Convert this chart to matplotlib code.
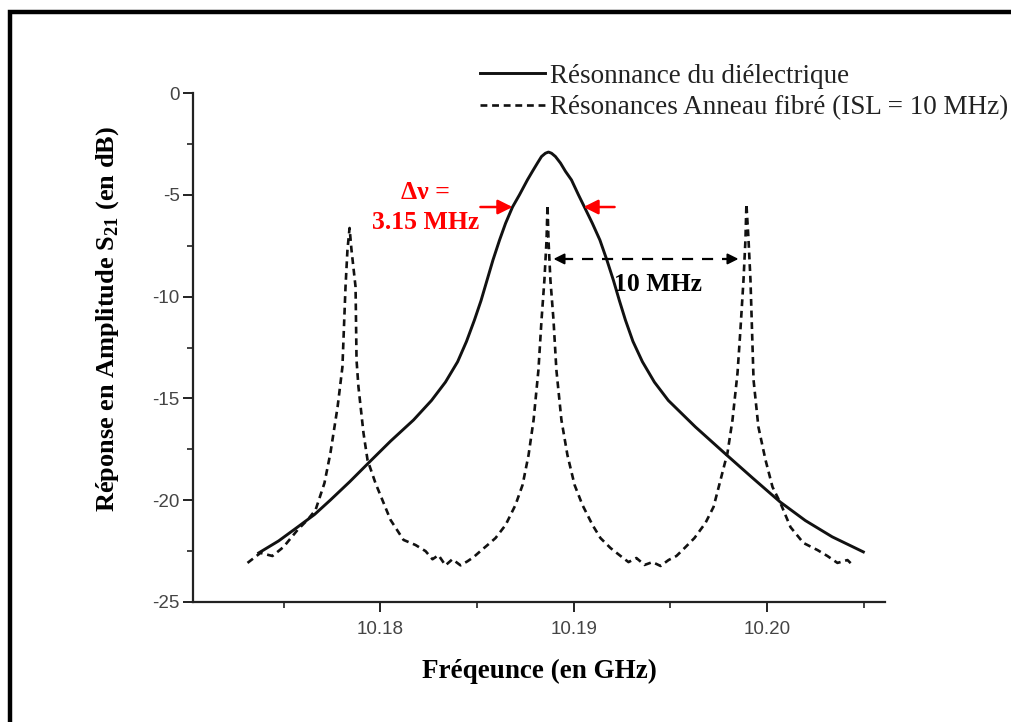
import matplotlib
matplotlib.use("Agg")
import matplotlib.pyplot as plt
from matplotlib.patches import Rectangle

# Résonance du diélectrique (trait plein)
freq_diel = [10.17370, 10.17473, 10.17571, 10.17659, 10.17741, 10.17840, 10.17938,
             10.18052, 10.18171, 10.18264, 10.18336, 10.18399, 10.18445, 10.18486,
             10.18520, 10.18551, 10.18582, 10.18616, 10.18647, 10.18683, 10.18719,
             10.18760, 10.18786, 10.18812, 10.18833, 10.18853, 10.18869, 10.18885,
             10.18905, 10.18931, 10.18957, 10.18988, 10.19024, 10.19055, 10.19096,
             10.19135, 10.19171, 10.19205, 10.19236, 10.19267, 10.19306, 10.19355,
             10.19417, 10.19489, 10.19629, 10.19779, 10.19924, 10.20068, 10.20198,
             10.20337, 10.20498]
s21_diel = [-22.59, -22.00, -21.32, -20.70, -19.99, -19.10, -18.17,
            -17.10, -16.06, -15.10, -14.20, -13.20, -12.20, -11.15,
            -10.20, -9.20, -8.20, -7.22, -6.40, -5.60, -5.00,
            -4.27, -3.85, -3.44, -3.12, -2.96, -2.90, -2.96,
            -3.12, -3.44, -3.85, -4.27, -5.00, -5.60, -6.40,
            -7.22, -8.20, -9.20, -10.20, -11.15, -12.20, -13.20,
            -14.20, -15.10, -16.40, -17.68, -18.90, -20.09, -21.00,
            -21.80, -22.54]

# Résonances de l'anneau fibré (pointillés)
freq_ring = [10.17312, 10.17379, 10.17441, 10.17498, 10.17571, 10.17622, 10.17664,
             10.17710, 10.17741, 10.17778, 10.17803, 10.17819, 10.17829, 10.17840,
             10.17850, 10.17871, 10.17876, 10.17886, 10.17912, 10.17933, 10.17974,
             10.18052, 10.18119, 10.18181, 10.18233, 10.18269, 10.18300, 10.18336,
             10.18372, 10.18414, 10.18450, 10.18481, 10.18517, 10.18554, 10.18595,
             10.18647, 10.18698, 10.18735, 10.18766, 10.18792, 10.18817, 10.18833,
             10.18848, 10.18859, 10.18864, 10.18869, 10.18879, 10.18895, 10.18910,
             10.18936, 10.18967, 10.19004, 10.19045, 10.19097, 10.19138, 10.19190,
             10.19242, 10.19283, 10.19324, 10.19366, 10.19407, 10.19449, 10.19490,
             10.19531, 10.19573, 10.19624, 10.19681, 10.19723, 10.19759, 10.19795,
             10.19821, 10.19847, 10.19862, 10.19878, 10.19888, 10.19893, 10.19904,
             10.19914, 10.19930, 10.19955, 10.19992, 10.20028, 10.20069, 10.20121,
             10.20188, 10.20261, 10.20312, 10.20364, 10.20416, 10.20442]
s21_ring = [-23.08, -22.59, -22.74, -22.30, -21.46, -20.97, -20.48,
            -19.16, -17.68, -15.42, -13.46, -9.53, -7.71, -6.63,
            -7.71, -9.53, -13.11, -14.44, -16.70, -18.03, -19.16,
            -20.97, -21.95, -22.20, -22.50, -22.90, -22.70, -23.20,
            -22.90, -23.20, -23.00, -22.80, -22.50, -22.20, -21.86,
            -21.22, -20.24, -19.25, -17.78, -16.06, -13.61, -11.15,
            -9.18, -7.22, -5.50, -7.22, -9.18, -11.15, -13.61,
            -16.06, -17.78, -19.25, -20.24, -21.22, -21.86, -22.35,
            -22.74, -23.04, -22.84, -23.18, -23.04, -23.23, -22.94,
            -22.74, -22.35, -21.86, -21.12, -20.33, -19.01, -17.68,
            -16.06, -13.75, -11.64, -9.18, -7.22, -5.45, -7.22,
            -9.18, -14.10, -16.40, -18.03, -19.35, -20.14, -21.32,
            -22.10, -22.45, -22.74, -23.08, -22.94, -23.18]

x_ticks = [10.18, 10.19, 10.20]
x_tick_labels = ["10.18", "10.19", "10.20"]
y_ticks = [0, -5, -10, -15, -20, -25]
y_tick_labels = ["0", "-5", "-10", "-15", "-20", "-25"]

plt.rcParams["mathtext.fontset"] = "custom"
plt.rcParams["mathtext.rm"] = "Liberation Serif"
plt.rcParams["mathtext.bf"] = "Liberation Serif:bold"

fig = plt.figure(figsize=(10.12, 7.22), dpi=100)
ax = fig.add_axes([193 / 1012, 1 - 602 / 722, 692 / 1012, 509 / 722])

l1, = ax.plot(freq_diel, s21_diel, color="#111111", lw=2.1,
              label="Résonnance du diélectrique")
l2, = ax.plot(freq_ring, s21_ring, color="#111111", lw=1.9, dashes=(2.6, 1.8),
              label="Résonances Anneau fibré (ISL = 10 MHz)")

ax.set_xlim(10.1703, 10.2061)
ax.set_ylim(-25, 0)
ax.spines["top"].set_visible(False)
ax.spines["right"].set_visible(False)
for s in ["left", "bottom"]:
    ax.spines[s].set_linewidth(1.6)
    ax.spines[s].set_color("#222222")

ax.set_xticks(x_ticks)
ax.set_xticklabels(x_tick_labels)
ax.set_xticks([10.175, 10.185, 10.195, 10.205], minor=True)
ax.set_yticks(y_ticks)
ax.set_yticklabels(y_tick_labels)
ax.tick_params(which="major", length=7.5, width=1.4, color="#222222",
               labelsize=13.5, labelcolor="#444444")
ax.tick_params(axis="x", which="major", pad=6)
ax.tick_params(axis="y", which="major", pad=2)
ax.set_yticks([-2.5, -7.5, -12.5, -17.5, -22.5], minor=True)
ax.tick_params(which="minor", length=4.5, width=1.2, color="#222222")
for lab in ax.get_xticklabels() + ax.get_yticklabels():
    lab.set_family("Liberation Sans")

ax.set_xlabel("Fréqeunce (en GHz)", family="Liberation Serif", weight="bold",
              fontsize=19.5)
ax.xaxis.set_label_coords(0.5, -0.112)
ax.set_ylabel("Réponse en Amplitude S$_{\\mathbf{21}}$ (en dB)",
              family="Liberation Serif", weight="bold", fontsize=19)
ax.yaxis.set_label_coords(-0.104, 0.556)

# annotations
ax.text(10.18233, -4.9, "Δν =", color="red", family="Liberation Serif",
        weight="bold", fontsize=18.5, ha="center", va="center")
ax.text(10.18233, -6.35, "3.15 MHz", color="red", family="Liberation Serif",
        weight="bold", fontsize=18.5, ha="center", va="center")
ax.annotate("", xy=(10.18683, -5.6), xytext=(10.18517, -5.6),
            arrowprops=dict(arrowstyle="-|>", color="red", lw=1.8, mutation_scale=22,
                            shrinkA=0, shrinkB=0))
ax.annotate("", xy=(10.19050, -5.6), xytext=(10.19211, -5.6),
            arrowprops=dict(arrowstyle="-|>", color="red", lw=1.8, mutation_scale=22,
                            shrinkA=0, shrinkB=0))

ax.plot([10.18940, 10.19810], [-8.15, -8.15], color="black", lw=1.6, dashes=(5, 4))
ax.annotate("", xy=(10.18895, -8.15), xytext=(10.18975, -8.15),
            arrowprops=dict(arrowstyle="-|>", color="black", lw=1.4, mutation_scale=16,
                            shrinkA=0, shrinkB=0))
ax.annotate("", xy=(10.19852, -8.15), xytext=(10.19775, -8.15),
            arrowprops=dict(arrowstyle="-|>", color="black", lw=1.4, mutation_scale=16,
                            shrinkA=0, shrinkB=0))
ax.text(10.19438, -9.4, "10 MHz", color="black", family="Liberation Serif",
        weight="bold", fontsize=18.5, ha="center", va="center")

leg = fig.legend(handles=[l1, l2], loc="upper left", bbox_to_anchor=(0.474, 0.912),
                 frameon=False, borderpad=0, borderaxespad=0, handlelength=2.4,
                 handletextpad=0.18, labelspacing=0.25,
                 prop={"family": "Liberation Serif", "size": 19.5})
for t in leg.get_texts():
    t.set_color("#222222")

# cadre noir autour de la figure
fig.patches.append(Rectangle((10 / 1012, -0.1), 1.2, 1 - 12 / 722 + 0.1,
                             transform=fig.transFigure, fill=False,
                             edgecolor="black", lw=3.2, zorder=10))

fig.savefig("out.png", dpi=100)
